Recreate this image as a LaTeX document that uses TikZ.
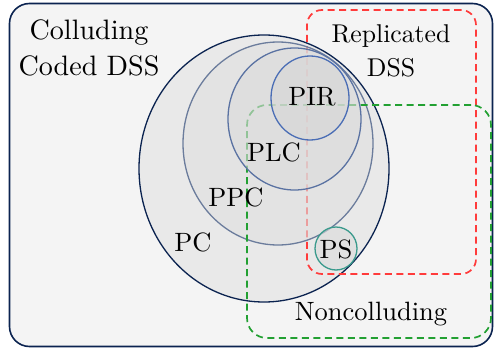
\documentclass[tikz,border=0pt]{standalone}
\usetikzlibrary{shapes.geometric}
\definecolor{navy}{HTML}{0B2350}
\definecolor{boxbg}{HTML}{F4F4F4}
\definecolor{pcfill}{HTML}{E9E9E9}
\definecolor{ppcline}{HTML}{6B7C9C}
\definecolor{plcline}{HTML}{5A72A2}
\definecolor{pirline}{HTML}{4A6DB5}
\definecolor{psline}{HTML}{3A9A8C}
\definecolor{redd}{HTML}{FF3B3B}
\definecolor{greend}{HTML}{22A032}
\definecolor{ppcfill}{HTML}{DFDFDF}
\definecolor{plcfill}{HTML}{DBDBDB}
\definecolor{pirfill}{HTML}{D7D7D7}
\begin{document}
\begin{tikzpicture}[x=1pt,y=-1pt,
  set/.style={ellipse,inner sep=0pt,line width=1.3pt},
  dashbox/.style={line width=1.7pt,dash pattern=on 7pt off 4.5pt},
  lbl/.style={inner sep=0pt,scale=2.65,font=\fontsize{10}{13}\selectfont}]
\useasboundingbox (0,0) rectangle (494,350);
% outer box
\node[draw=navy,fill=boxbg,line width=1.6pt,rounded corners=20pt,minimum width=483pt,minimum height=343pt,inner sep=0pt] (outer) at (251,175) {};
% PC
\node[set,draw=navy,fill=pcfill,minimum width=250pt,minimum height=267pt] (pc) at (264,168.5) {};
% red dashed rect
\node[dashbox,draw=redd,rounded corners=15pt,minimum width=169pt,minimum height=264pt,inner sep=0pt] (rep) at (391.5,142) {};
% PPC
\node[set,draw=ppcline,fill=ppcfill,fill opacity=0.6,minimum width=190pt,minimum height=203pt] (ppc) at (278,143.5) {};
% green dashed rect
\node[dashbox,draw=greend,rounded corners=20pt,minimum width=244pt,minimum height=233pt,inner sep=0pt] (nc) at (369,221.5) {};
% PLC
\node[set,draw=plcline,fill=plcfill,fill opacity=0.6,minimum width=133pt,minimum height=142pt] (plc) at (294.5,119) {};
% PIR
\node[set,draw=pirline,fill=pirfill,fill opacity=0.6,minimum width=78pt,minimum height=84pt] (pir) at (310,98) {};
% PS
\node[set,draw=psline,fill=plcfill,fill opacity=0.6,minimum width=42pt,minimum height=43pt] (ps) at (336,248.5) {};
% labels
\node[lbl,align=center,scale=1.06] (tcoll) at (89,48) {Colluding\\Coded DSS};
\node[lbl,align=center,scale=0.97] (trep) at (391,51) {Replicated\\DSS};
\node[lbl] (tpir) at (312,97) {PIR};
\node[lbl] (tplc) at (274,152) {PLC};
\node[lbl] (tppc) at (236,197) {PPC};
\node[lbl] (tpc) at (193,242) {PC};
\node[lbl] (tps) at (336,249) {PS};
\node[lbl] (tnc) at (371,314) {Noncolluding};
\end{tikzpicture}
\end{document}
